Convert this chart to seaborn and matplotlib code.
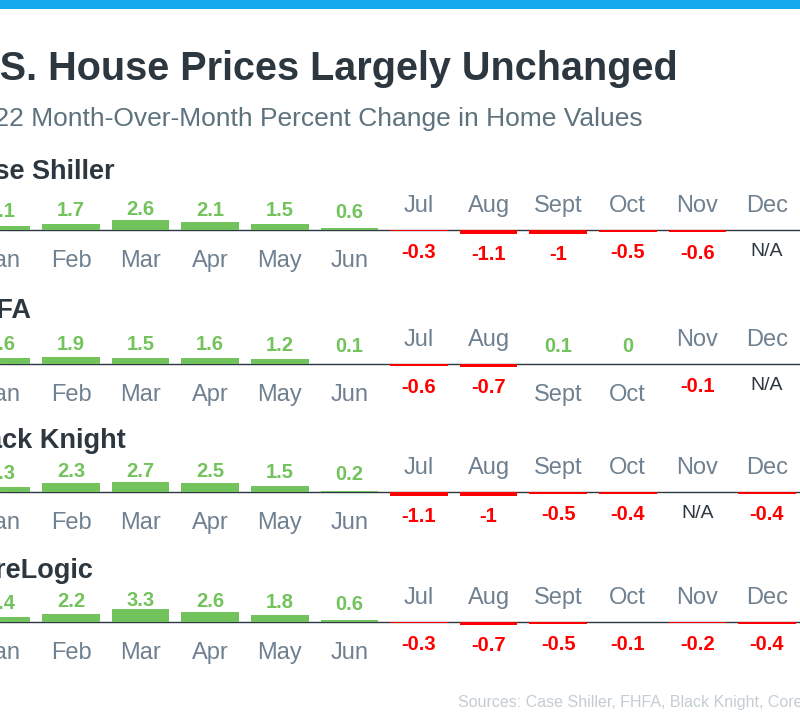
import numpy as np
import pandas as pd
import matplotlib
matplotlib.use('Agg')
import matplotlib.pyplot as plt
import seaborn as sns

# Data (NaN = N/A)
months = ['Jan', 'Feb', 'Mar', 'Apr', 'May', 'Jun', 'Jul', 'Aug', 'Sept', 'Oct', 'Nov', 'Dec']
sources = ['Case Shiller', 'FHFA', 'Black Knight', 'CoreLogic']
case_shiller = [1.1, 1.7, 2.6, 2.1, 1.5, 0.6, -0.3, -1.1, -1.0, -0.5, -0.6, np.nan]
fhfa = [1.6, 1.9, 1.5, 1.6, 1.2, 0.1, -0.6, -0.7, 0.1, 0.0, -0.1, np.nan]
black_knight = [1.3, 2.3, 2.7, 2.5, 1.5, 0.2, -1.1, -1.0, -0.5, -0.4, np.nan, -0.4]
corelogic = [1.4, 2.2, 3.3, 2.6, 1.8, 0.6, -0.3, -0.7, -0.5, -0.1, -0.2, -0.4]
all_values = [case_shiller, fhfa, black_knight, corelogic]

GREEN = '#72C35B'
RED = '#FF0000'
DARK = '#2D3740'
MONTH_GREY = '#6F8090'

sns.set_theme(style='white')
plt.rcParams['font.family'] = ['Liberation Sans', 'DejaVu Sans']

W, H = 800, 720
fig = plt.figure(figsize=(8, 7.2), dpi=100)
fig.patch.set_facecolor('white')

# top blue strip
strip = fig.add_axes([0, 1 - 9 / H, 1, 9 / H])
strip.set_facecolor('#15AAEE')
strip.set_xticks([])
strip.set_yticks([])
for s in strip.spines.values():
    s.set_visible(False)

fig.text(678 / W, 1 - 69 / H, 'U.S. House Prices Largely Unchanged', ha='right', va='center',
         fontsize=28.5, fontweight='bold', color=DARK)
fig.text(643 / W, 1 - 119 / H, '2022 Month-Over-Month Percent Change in Home Values', ha='right',
         va='center', fontsize=19, color='#5E727D')

baselines = [230, 364, 492, 622]
header_y = [172, 311, 441, 571]
px_per_unit = 3.8
half = 40  # half height of each panel axes in px
pt = 0.72  # points per pixel at 100 dpi

for name, vals, base, hy in zip(sources, all_values, baselines, header_y):
    fig.text(-40 / W, 1 - hy / H, name, ha='left', va='center', fontsize=19.5,
             fontweight='bold', color=DARK)

    ax = fig.add_axes([0, 1 - (base + half) / H, 1, 2 * half / H])
    df = pd.DataFrame({'month': months, 'value': vals})
    df['sign'] = np.where(df['value'] < 0, 'neg', 'pos')
    bars = df.dropna()
    ax.axhline(0, color=DARK, lw=1.0, zorder=0)
    sns.barplot(data=bars, x='month', y='value', hue='sign', order=months,
                hue_order=['pos', 'neg'], palette={'pos': GREEN, 'neg': RED},
                dodge=False, width=0.83, errorbar=None, legend=False, ax=ax,
                linewidth=0, saturation=1, zorder=2)

    for i, (m, v) in enumerate(zip(months, vals)):
        if np.isnan(v) or v < 0:
            ax.annotate(m, (i, 0), xytext=(0, 24 * pt), textcoords='offset points',
                        ha='center', va='center', fontsize=17, color=MONTH_GREY)
            if np.isnan(v):
                ax.annotate('N/A', (i, 0), xytext=(0, -22 * pt), textcoords='offset points',
                            ha='center', va='center', fontsize=14, color=DARK)
            else:
                ax.annotate(f'{v:g}', (i, 0), xytext=(0, -22 * pt - abs(v) * 2 * pt),
                            textcoords='offset points', ha='center', va='center',
                            fontsize=14.5, fontweight='bold', color=RED)
        else:
            ax.annotate(m, (i, 0), xytext=(0, -31 * pt), textcoords='offset points',
                        ha='center', va='center', fontsize=17, color=MONTH_GREY)
            ax.annotate(f'{v:g}', (i, 0), xytext=(0, (17 + 1.4 * v) * pt),
                        textcoords='offset points', ha='center', va='center',
                        fontsize=14.5, fontweight='bold', color=GREEN)

    ax.set_xlim(-1.4 / 69.6, (W - 1.4) / 69.6)
    ax.set_ylim(-half / px_per_unit, half / px_per_unit)
    ax.set_axis_off()

fig.text(458 / W, 1 - 702 / H, 'Sources: Case Shiller, FHFA, Black Knight, CoreLogic', ha='left',
         va='center', fontsize=11.5, color='#C5CDD2')

fig.savefig('out.png', dpi=100, facecolor='white')
